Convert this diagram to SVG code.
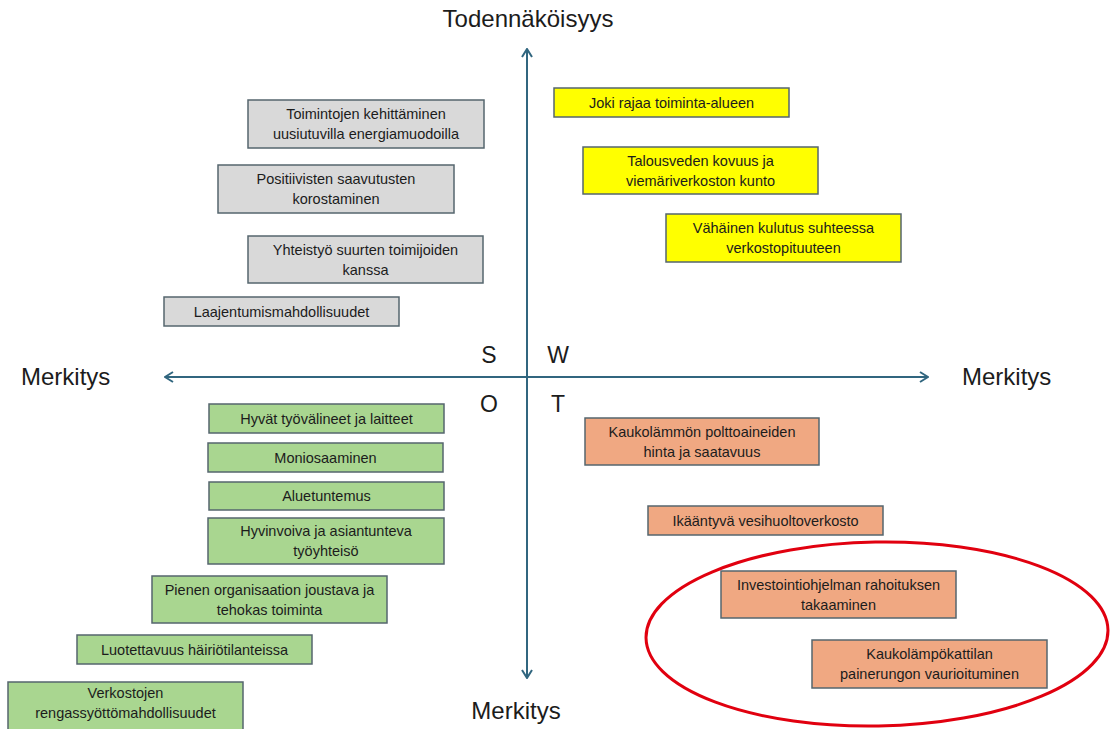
<svg xmlns="http://www.w3.org/2000/svg" width="1110" height="729" viewBox="0 0 1110 729">
<style>
  text { font-family: "Liberation Sans", Arial, sans-serif; fill: #1c1c1c; }
  .lbl { font-size: 14.5px; text-anchor: middle; }
  .ax { font-size: 24px; }
  .q { font-size: 23px; text-anchor: middle; }
  .box { stroke: #55666e; stroke-width: 1.5; }
  .grey { fill: #d9d9d9; }
  .yellow { fill: #ffff00; }
  .green { fill: #a9d690; }
  .orange { fill: #f0a882; }
  .axis { stroke: #31667f; stroke-width: 2; fill: none; }
</style>
<defs>
  <marker id="arr" viewBox="0 0 12 12" refX="11" refY="6" markerWidth="12" markerHeight="12" markerUnits="userSpaceOnUse" orient="auto">
    <path d="M3,1 L11,6 L3,11" fill="none" stroke="#31667f" stroke-width="2"/>
  </marker>
</defs>
<rect width="1110" height="729" fill="#ffffff"/>

<g id="connectors">
  <line class="axis" x1="527" y1="377" x2="165" y2="377" marker-end="url(#arr)"/>
  <line class="axis" x1="527" y1="377" x2="928" y2="377" marker-end="url(#arr)"/>
  <line class="axis" x1="527" y1="377" x2="527" y2="49" marker-end="url(#arr)"/>
  <line class="axis" x1="527" y1="377" x2="527" y2="678" marker-end="url(#arr)"/>
</g>

<g id="axis-labels">
  <text class="ax" x="528" y="27" text-anchor="middle">Todennäköisyys</text>
  <text class="ax" x="21" y="385">Merkitys</text>
  <text class="ax" x="962" y="385">Merkitys</text>
  <text class="ax" x="516" y="719" text-anchor="middle">Merkitys</text>
  <text class="q" x="489" y="363">S</text>
  <text class="q" x="558" y="363">W</text>
  <text class="q" x="489" y="412">O</text>
  <text class="q" x="558" y="412">T</text>
</g>

<g id="s1"><rect class="box grey" x="248" y="100" width="236" height="48"/>
  <text class="lbl" x="366" y="119">Toimintojen kehittäminen</text>
  <text class="lbl" x="366" y="139">uusiutuvilla energiamuodoilla</text></g>
<g id="s2"><rect class="box grey" x="218" y="165" width="236" height="48"/>
  <text class="lbl" x="336" y="184">Positiivisten saavutusten</text>
  <text class="lbl" x="336" y="204">korostaminen</text></g>
<g id="s3"><rect class="box grey" x="248" y="236" width="235" height="47"/>
  <text class="lbl" x="365.5" y="254.5">Yhteistyö suurten toimijoiden</text>
  <text class="lbl" x="365.5" y="274.5">kanssa</text></g>
<g id="s4"><rect class="box grey" x="164" y="297" width="235" height="29"/>
  <text class="lbl" x="281.5" y="316.5">Laajentumismahdollisuudet</text></g>

<g id="w1"><rect class="box yellow" x="554" y="88" width="235" height="29"/>
  <text class="lbl" x="671.5" y="107.5">Joki rajaa toiminta-alueen</text></g>
<g id="w2"><rect class="box yellow" x="583" y="147" width="235" height="47"/>
  <text class="lbl" x="700.5" y="165.5">Talousveden kovuus ja</text>
  <text class="lbl" x="700.5" y="185.5">viemäriverkoston kunto</text></g>
<g id="w3"><rect class="box yellow" x="666" y="214" width="235" height="48"/>
  <text class="lbl" x="783.5" y="233">Vähäinen kulutus suhteessa</text>
  <text class="lbl" x="783.5" y="253">verkostopituuteen</text></g>

<g id="o1"><rect class="box green" x="209" y="404" width="235" height="29"/>
  <text class="lbl" x="326.5" y="423.5">Hyvät työvälineet ja laitteet</text></g>
<g id="o2"><rect class="box green" x="208" y="443" width="235" height="29"/>
  <text class="lbl" x="325.5" y="462.5">Moniosaaminen</text></g>
<g id="o3"><rect class="box green" x="209" y="482" width="235" height="28"/>
  <text class="lbl" x="326.5" y="501">Aluetuntemus</text></g>
<g id="o4"><rect class="box green" x="208" y="518" width="236" height="46"/>
  <text class="lbl" x="326" y="536">Hyvinvoiva ja asiantunteva</text>
  <text class="lbl" x="326" y="556">työyhteisö</text></g>
<g id="o5"><rect class="box green" x="152" y="576" width="235" height="47"/>
  <text class="lbl" x="269.5" y="594.5">Pienen organisaation joustava ja</text>
  <text class="lbl" x="269.5" y="614.5">tehokas toiminta</text></g>
<g id="o6"><rect class="box green" x="77" y="635" width="235" height="29"/>
  <text class="lbl" x="194.5" y="654.5">Luotettavuus häiriötilanteissa</text></g>
<g id="o7"><rect class="box green" x="8" y="682" width="235" height="48"/>
  <text class="lbl" x="125.5" y="698">Verkostojen</text>
  <text class="lbl" x="125.5" y="718">rengassyöttömahdollisuudet</text></g>

<g id="t1"><rect class="box orange" x="585" y="418" width="234" height="47"/>
  <text class="lbl" x="702" y="436.5">Kaukolämmön polttoaineiden</text>
  <text class="lbl" x="702" y="456.5">hinta ja saatavuus</text></g>
<g id="t2"><rect class="box orange" x="648" y="506" width="235" height="29"/>
  <text class="lbl" x="765.5" y="525.5">Ikääntyvä vesihuoltoverkosto</text></g>
<g id="t3"><rect class="box orange" x="721" y="571" width="235" height="47"/>
  <text class="lbl" x="838.5" y="589.5">Investointiohjelman rahoituksen</text>
  <text class="lbl" x="838.5" y="609.5">takaaminen</text></g>
<g id="t4"><rect class="box orange" x="812" y="640" width="235" height="48"/>
  <text class="lbl" x="929.5" y="659">Kaukolämpökattilan</text>
  <text class="lbl" x="929.5" y="679">painerungon vaurioituminen</text></g>

<g id="highlight">
  <ellipse cx="877" cy="634" rx="231" ry="92" fill="none" stroke="#e1000f" stroke-width="3" transform="rotate(-1 877 634)"/>
</g>
</svg>
